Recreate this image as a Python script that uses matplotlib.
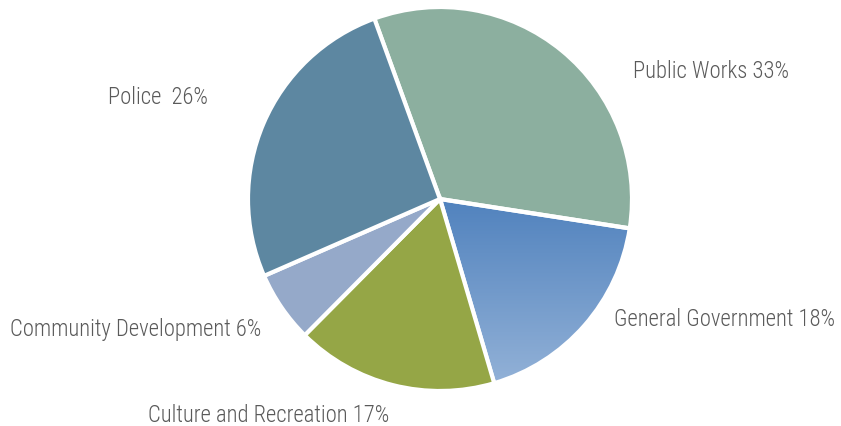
import numpy as np
import matplotlib.pyplot as plt
from matplotlib import font_manager
from matplotlib.font_manager import FontProperties
from matplotlib.colors import LinearSegmentedColormap

categories = ["Public Works", "General Government", "Culture and Recreation",
              "Community Development", "Police"]
shares = [33, 18, 17, 6, 26]
labels = ["Public Works 33%", "General Government 18%", "Culture and Recreation 17%",
          "Community Development 6%", "Police  26%"]
colors = ["#8caf9f", "#4f81bd", "#95a646", "#95a9c9", "#5d87a1"]


def narrow_font(size):
    # pick a condensed face if one is installed, lighter weights first
    fonts = font_manager.fontManager.ttflist
    narrow = ("condensed", "semi-condensed", 375, 75, 87.5)
    for weights in [(300, "light"), (400, "normal", "regular")]:
        for fam in ["Roboto Condensed", "DejaVu Sans", "Liberation Sans Narrow", "Open Sans"]:
            for f in fonts:
                if (f.name == fam and f.style == "normal" and f.weight in weights
                        and f.stretch in narrow):
                    return FontProperties(fname=f.fname, size=size), True
    return FontProperties(family="DejaVu Sans", size=size), False


W, H = 841, 427
fig = plt.figure(figsize=(W / 100, H / 100), dpi=100)
ax = fig.add_axes([0, 0, 1, 1])

cx, cy, r = 440, 227, 192
wedges, _ = ax.pie(shares, colors=colors, startangle=110, counterclock=False,
                   center=(cx, cy), radius=r,
                   wedgeprops=dict(edgecolor="white", linewidth=3))

# vertical gradient fill for the General Government slice
gg = wedges[1]
grad = LinearSegmentedColormap.from_list("gg", ["#95b3d8", "#4f81bd"])
ys = np.linspace(0, 1, 256).reshape(-1, 1)
img = ax.imshow(ys, cmap=grad, origin="lower", aspect="auto",
                extent=(cx, cx + r, cy - r, cy + 5), zorder=gg.get_zorder() - 0.1)
img.set_clip_path(gg)
gg.set_facecolor("none")

ax.set_xlim(0, W)
ax.set_ylim(0, H)
ax.set_aspect("equal")
ax.axis("off")

fp, condensed = narrow_font(16.3)
if not condensed:
    fp.set_size(13)

positions = [(633, H - 72), (614, H - 320), (148, H - 415), (10, H - 330), (108, H - 97)]
for text, (x, y) in zip(labels, positions):
    ax.text(x, y, text, ha="left", va="center", color="#5a5a5a", fontproperties=fp)

fig.savefig("out.png", dpi=100)
